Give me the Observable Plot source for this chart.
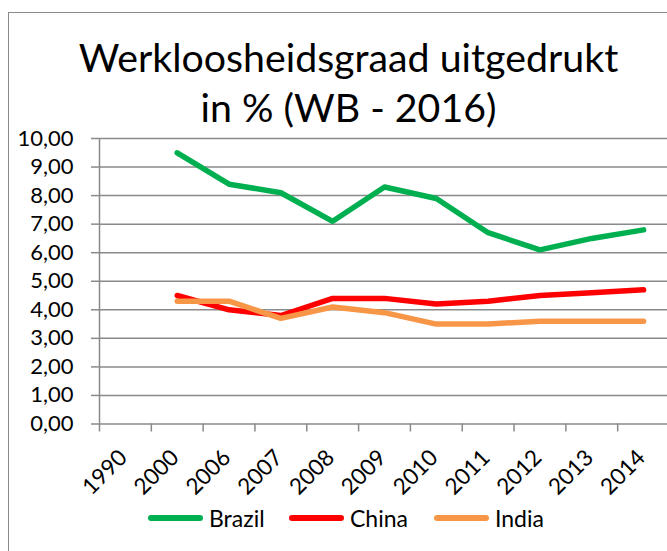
<!DOCTYPE html>
<html>
<head>
<meta charset="utf-8">
<script src="https://cdn.jsdelivr.net/npm/d3@7"></script>
<script src="https://cdn.jsdelivr.net/npm/@observablehq/plot@0.6"></script>
<style>
  html, body { margin: 0; padding: 0; background: #fff; }
  #wrap { position: relative; width: 667px; height: 551px; overflow: hidden; font-family: Lato, sans-serif; color: #000; }
  #frame { position: absolute; left: 8px; top: 12px; width: 720px; height: 620px; border: 1.5px solid #8a8a8a; box-sizing: border-box; }
  #title { position: absolute; left: 0; top: 32px; width: 697px; text-align: center; font-size: 39.3px; line-height: 50px; white-space: nowrap; }
  #chart { position: absolute; left: 0; top: 118px; width: 700px; }
  #legend { position: absolute; left: 0; top: 503px; width: 667px; height: 30px; font-size: 23px; }
  .item { position: absolute; top: 0; display: flex; align-items: center; height: 30px; }
  .sw { width: 55px; height: 6px; border-radius: 3px; margin-right: 6px; }
</style>
</head>
<body>
<div id="wrap">
  <div id="frame"></div>
  <div id="title">Werkloosheidsgraad uitgedrukt<br>in % (WB - 2016)</div>
  <div id="chart"></div>
  <div id="legend"></div>
</div>
<script>
// ---- data ----
const categories = ["1990", "2000", "2006", "2007", "2008", "2009", "2010", "2011", "2012", "2013", "2014"];
const brazil = [null, 9.5, 8.4, 8.1, 7.1, 8.3, 7.9, 6.7, 6.1, 6.5, 6.8];
const china  = [null, 4.5, 4.0, 3.8, 4.4, 4.4, 4.2, 4.3, 4.5, 4.6, 4.7];
const india  = [null, 4.3, 4.3, 3.7, 4.1, 3.9, 3.5, 3.5, 3.6, 3.6, 3.6];
const seriesNames = ["Brazil", "China", "India"];
const seriesColors = ["#00b050", "#ff0000", "#f79646"];
const yTicks = [0, 1, 2, 3, 4, 5, 6, 7, 8, 9, 10];

// ---- build table ----
const seriesValues = [brazil, china, india];
const rows = [];
seriesNames.forEach((name, s) => {
  categories.forEach((c, i) => {
    const v = seriesValues[s][i];
    if (v != null) rows.push({cat: c, value: v, series: name});
  });
});

const gray = "#8a8a8a";
const W = 669, ML = 99;
const step = (W - ML) / categories.length;
const fmt = d => d.toFixed(2).replace(".", ",");

const chart = Plot.plot({
  width: W,
  height: 386,
  marginLeft: ML,
  marginRight: 0,
  marginTop: 20,
  marginBottom: 80.5,
  style: {fontFamily: "Lato, sans-serif", fontSize: "22px", color: "#000", background: "transparent", overflow: "visible", maxWidth: "none"},
  x: {type: "point", domain: categories, padding: 0.5, align: 0.5, round: false, axis: null, label: null},
  y: {domain: [0, 10], axis: null, label: null},
  color: {domain: seriesNames, range: seriesColors},
  marks: [
    Plot.gridY(yTicks, {stroke: gray, strokeOpacity: 1, strokeWidth: 1.5}),
    Plot.ruleX([categories[0]], {y1: 0, y2: 10, dx: -step / 2, stroke: gray, strokeWidth: 1.5}),
    Plot.axisY(yTicks, {label: null, tickSize: 8, tickPadding: 18, tickFormat: fmt, stroke: gray, strokeWidth: 1.5, fill: "#000", fontSize: 22}),
    Plot.axisX(categories, {label: null, tickSize: 8, tickFormat: () => "", dx: -step / 2, stroke: gray, strokeWidth: 1.5}),
    Plot.text(categories, {x: d => d, frameAnchor: "bottom", rotate: -45, textAnchor: "end", dx: 3, dy: 35, fontSize: 22.5, fill: "#000"}),
    Plot.line(rows, {x: "cat", y: "value", z: "series", stroke: "series", strokeWidth: 5.5, strokeLinecap: "round", strokeLinejoin: "round"})
  ]
});
document.getElementById("chart").appendChild(chart);

// ---- legend ----
const legend = document.getElementById("legend");
const legendLeft = [148, 289, 434];
seriesNames.forEach((name, i) => {
  const item = document.createElement("div");
  item.className = "item";
  item.style.left = legendLeft[i] + "px";
  const sw = document.createElement("div");
  sw.className = "sw";
  sw.style.background = seriesColors[i];
  const t = document.createElement("span");
  t.textContent = name;
  item.appendChild(sw);
  item.appendChild(t);
  legend.appendChild(item);
});
</script>
</body>
</html>
